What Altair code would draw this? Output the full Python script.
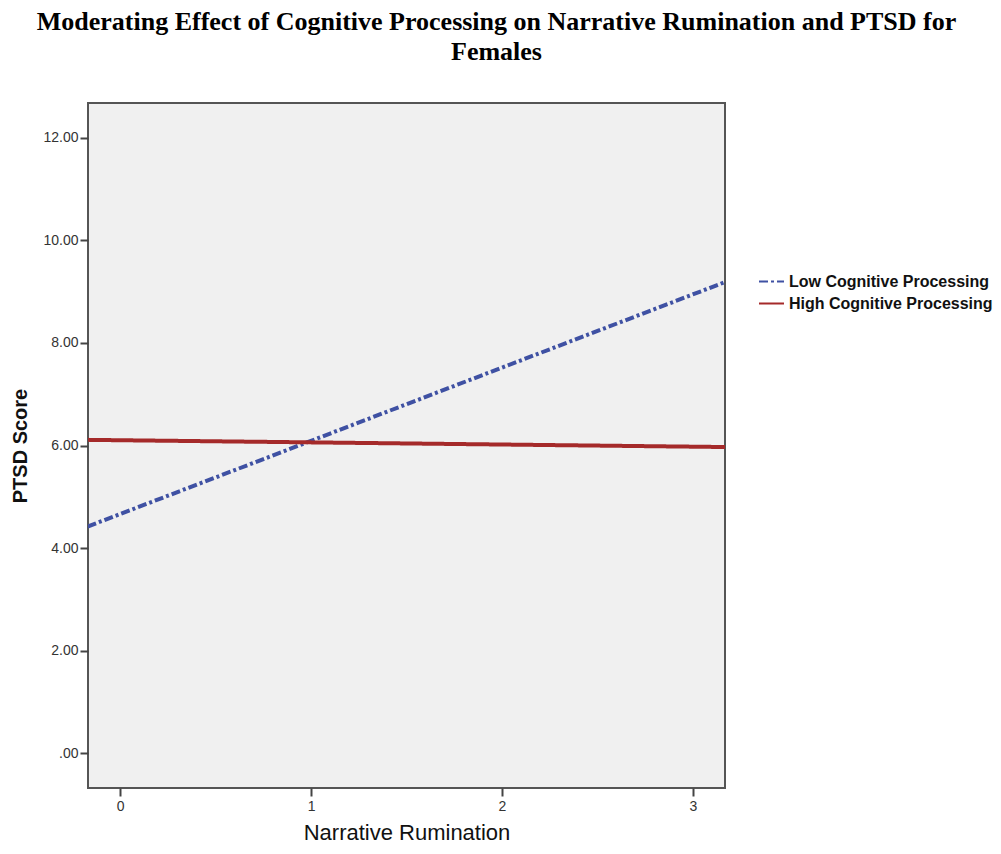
import altair as alt
import pandas as pd

series = ["Low Cognitive Processing", "High Cognitive Processing"]
x_vals = [-0.17, 3.17]
low_y = [4.42, 9.19]
high_y = [6.11, 5.97]

rows = []
for xv, yv in zip(x_vals, low_y):
    rows.append({"x": xv, "y": yv, "group": series[0]})
for xv, yv in zip(x_vals, high_y):
    rows.append({"x": xv, "y": yv, "group": series[1]})
df = pd.DataFrame(rows)

x_ticks = [0, 1, 2, 3]
y_ticks = [0, 2, 4, 6, 8, 10, 12]

chart = alt.Chart(df).mark_line(strokeWidth=4, clip=True).encode(
    x=alt.X("x:Q", scale=alt.Scale(domain=[-0.168, 3.168], nice=False, zero=False),
            axis=alt.Axis(values=x_ticks, format="d", title="Narrative Rumination",
                          grid=False, domain=False, tickSize=8, tickWidth=2, tickColor="#444",
                          labelFont="Liberation Sans", labelFontSize=14, labelColor="#333",
                          labelPadding=3, titleFont="Liberation Sans", titleFontSize=22,
                          titleFontWeight="normal", titleColor="#111", titlePadding=9)),
    y=alt.Y("y:Q", scale=alt.Scale(domain=[-0.68, 12.68], nice=False, zero=False),
            axis=alt.Axis(values=y_ticks, title="PTSD Score",
                          labelExpr="datum.value == 0 ? '.00' : format(datum.value, '.2f')",
                          grid=False, domain=False, tickSize=8, tickWidth=2, tickColor="#444",
                          labelFont="Liberation Sans", labelFontSize=14, labelColor="#333",
                          labelPadding=2, titleFont="Liberation Sans", titleFontSize=20,
                          titleFontWeight="bold", titleColor="#111", titlePadding=12)),
    color=alt.Color("group:N", scale=alt.Scale(domain=series, range=["#3F51A3", "#A52A2A"]),
                    legend=alt.Legend(title=None, orient="none", legendX=670, legendY=165,
                                      symbolType="stroke", symbolSize=625, symbolStrokeWidth=2,
                                      labelFont="Liberation Sans", labelFontSize=16,
                                      labelFontWeight="bold", labelColor="#111", rowPadding=-3,
                                      labelOffset=4, labelLimit=300)),
    strokeDash=alt.StrokeDash("group:N", scale=alt.Scale(domain=series, range=[[9, 3, 3, 3], [1, 0]]),
                              legend=None),
).properties(
    width=637,
    height=685,
    title=alt.Title(
        ["Moderating Effect of Cognitive Processing on Narrative Rumination and PTSD for", "Females"],
        font="Liberation Serif", fontSize=26, fontWeight="bold", color="#000",
        anchor="middle", dx=90, offset=38, lineHeight=30,
    ),
    autosize=alt.AutoSizeParams(type="none"),
    padding={"left": 80, "top": 95, "right": 268, "bottom": 55},
).configure(
    background="white"
).configure_view(
    fill="#F0F0F0", stroke="#555", strokeWidth=2
)

chart.save("out.html", embed_options={"renderer": "svg", "actions": False})
